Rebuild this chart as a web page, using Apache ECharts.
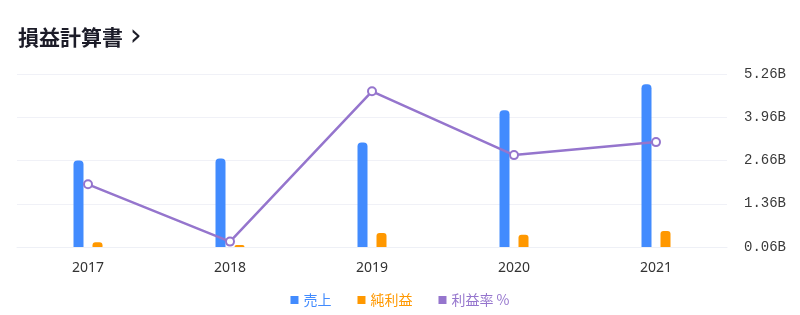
<!DOCTYPE html>
<html><head><meta charset="utf-8">
<script src="https://cdn.jsdelivr.net/npm/echarts@6/dist/echarts.min.js"></script>
<style>html,body{margin:0;padding:0;background:#fff}#c{width:800px;height:315px}</style>
</head><body><div id="c"></div>
<script>
const categories = ['2017','2018','2019','2020','2021'];
const revenue = [2.66, 2.72, 3.20, 4.17, 4.95];      // 売上 (B)
const netIncome = [0.20, 0.12, 0.48, 0.43, 0.54];    // 純利益 (B)
const margin = [5.8, 0.5, 14.4, 8.5, 9.7];           // 利益率 %
const yTickLabels = ['0.06B','1.36B','2.66B','3.96B','5.26B'];
const yBase = 0.06, yStep = 1.3;

const chart = echarts.init(document.getElementById('c'));
const font = '"Noto Sans CJK JP","Noto Sans",sans-serif';
chart.setOption({
  animation:false,
  title:{text:'損益計算書 {c|›}',left:13,top:17,
    textStyle:{fontSize:21,fontWeight:'bold',color:'#1c1c28',fontFamily:font,
      rich:{c:{fontSize:30,fontWeight:'normal',color:'#1c1c28',fontFamily:'"DejaVu Sans",sans-serif',padding:[0,0,0,2]}}}},
  legend:{bottom:3,left:'center',itemWidth:8,itemHeight:8,itemGap:26,icon:'rect',
    textStyle:{fontSize:14,fontFamily:font},
    data:[{name:'売上',textStyle:{color:'#428bfe'}},
          {name:'純利益',textStyle:{color:'#ff9800'}},
          {name:'利益率 %',textStyle:{color:'#9575cd'},itemStyle:{color:'#9575cd',borderWidth:0}}]},
  grid:{left:17,right:73,top:74,bottom:68},
  xAxis:{type:'category',data:categories,
    axisLine:{lineStyle:{color:'#eef0f6'}},axisTick:{show:false},
    axisLabel:{color:'#333',fontSize:14,margin:14,fontFamily:'"Noto Sans",sans-serif'}},
  yAxis:[{type:'value',position:'right',min:0,max:yStep*4,interval:yStep,
    axisLine:{show:false},axisTick:{show:false},
    splitLine:{lineStyle:{color:'#f0f1f7'}},
    axisLabel:{color:'#3a3a3a',fontSize:14,margin:17,fontFamily:'"Liberation Mono",monospace',
      formatter:v=>yTickLabels[Math.round(v/yStep)]}},
    {type:'value',min:0,max:16,show:false,splitLine:{show:false}}],
  series:[
    {name:'売上',type:'bar',barWidth:10,barGap:'90%',data:revenue.map(v=>v-yBase),
      itemStyle:{color:'#428bfe',borderRadius:[4,4,0,0]}},
    {name:'純利益',type:'bar',barWidth:10,data:netIncome.map(v=>v-yBase),
      itemStyle:{color:'#ff9800',borderRadius:[3,3,0,0]}},
    {name:'利益率 %',type:'line',yAxisIndex:1,data:margin,symbol:'circle',symbolSize:8,
      lineStyle:{color:'#9575cd',width:2.5},
      itemStyle:{color:'#fff',borderColor:'#9575cd',borderWidth:2}}
  ]
});
</script></body></html>
